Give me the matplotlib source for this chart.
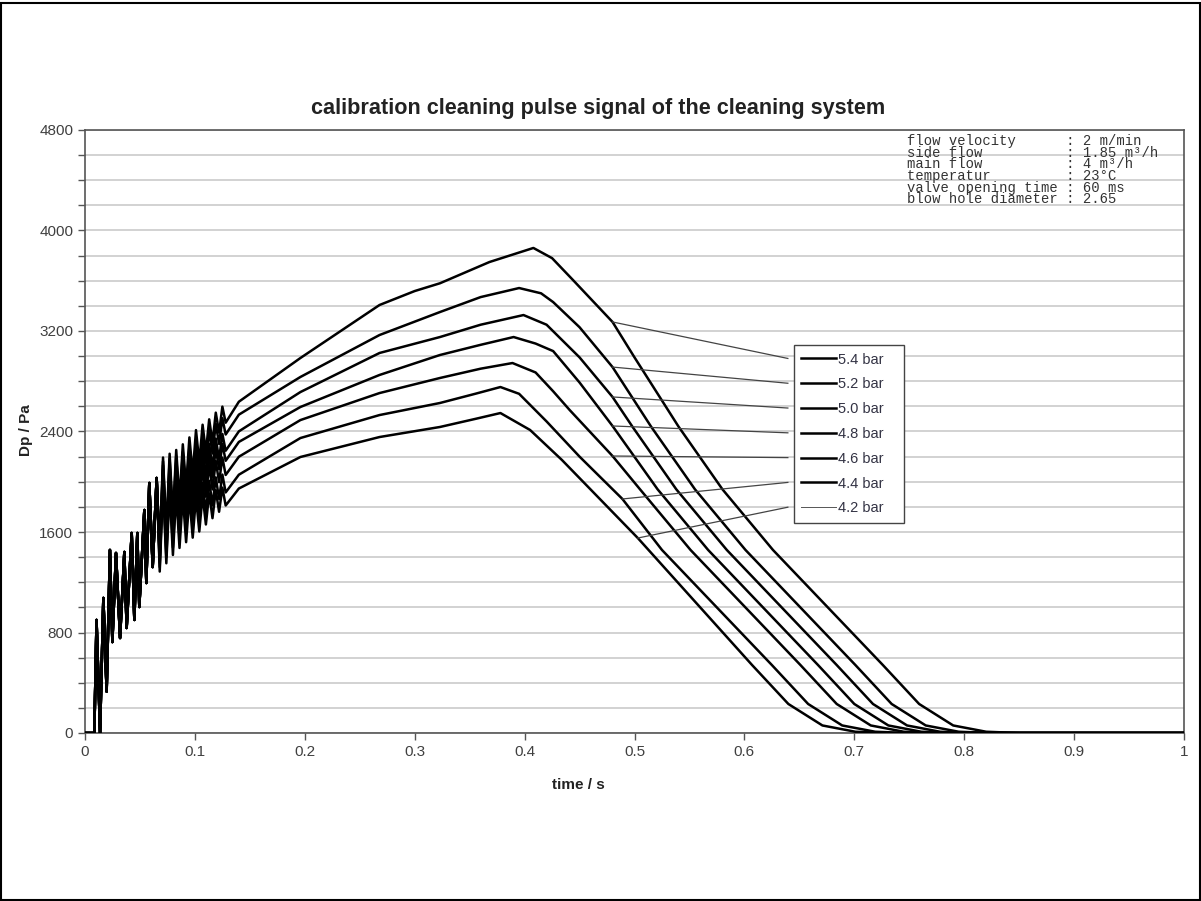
import numpy as np
import matplotlib.pyplot as plt
from matplotlib.patches import Rectangle
from matplotlib.ticker import MultipleLocator

plt.rcParams['font.family'] = ['Liberation Sans', 'DejaVu Sans']

labels = ["5.4 bar", "5.2 bar", "5.0 bar", "4.8 bar", "4.6 bar", "4.4 bar", "4.2 bar"]

# start-up transient, common to all pressures (t / s, Dp / Pa)
t_start = [0.0, 0.0085, 0.0105, 0.0137, 0.0167, 0.0197, 0.0227, 0.0249, 0.0282, 0.0319,
           0.0358, 0.0379, 0.0425, 0.0449, 0.0476, 0.0494, 0.054, 0.0558, 0.0585, 0.0616, 0.0652]
p_start = [0, 0, 900, 0, 1075, 330, 1457, 724, 1433, 756,
           1441, 836, 1592, 900, 1592, 1003, 1775, 1194, 1990, 1321, 2030]

# ringing phase: troughs and peaks of each curve
t_ring = [0.068, 0.071, 0.074, 0.077, 0.080, 0.083, 0.086, 0.089, 0.092, 0.095, 0.098,
          0.101, 0.104, 0.107, 0.110, 0.113, 0.116, 0.119, 0.122, 0.125, 0.128]
ring_54 = [1473, 2193, 1603, 2223, 1733, 2253, 1853, 2298, 1963, 2353, 2063,
           2411, 2152, 2454, 2235, 2497, 2313, 2550, 2391, 2598, 2470]
ring_52 = [1447, 2162, 1567, 2182, 1687, 2202, 1797, 2237, 1897, 2282, 1987,
           2330, 2070, 2370, 2150, 2410, 2225, 2461, 2301, 2506, 2376]
ring_50 = [1421, 2130, 1529, 2138, 1637, 2146, 1735, 2169, 1823, 2202, 1901,
           2239, 1975, 2270, 2046, 2302, 2113, 2344, 2180, 2381, 2247]
ring_48 = [1394, 2098, 1492, 2096, 1590, 2094, 1678, 2107, 1756, 2130, 1824,
           2159, 1895, 2191, 1967, 2223, 2033, 2264, 2100, 2301, 2167]
ring_46 = [1356, 2057, 1448, 2049, 1540, 2041, 1622, 2048, 1694, 2065, 1756,
           2087, 1818, 2110, 1881, 2132, 1939, 2165, 1996, 2192, 2054]
ring_44 = [1321, 2015, 1399, 1993, 1477, 1971, 1545, 1964, 1603, 1967, 1651,
           1976, 1704, 1992, 1760, 2008, 1812, 2035, 1863, 2057, 1915]
ring_42 = [1285, 1973, 1351, 1939, 1417, 1905, 1473, 1886, 1519, 1877, 1555,
           1876, 1604, 1892, 1660, 1908, 1710, 1933, 1761, 1953, 1811]

# rest of each pulse
t_54 = [0.14, 0.196, 0.268, 0.3, 0.323, 0.368, 0.408, 0.425, 0.444, 0.48, 0.50,
        0.54, 0.58, 0.626, 0.726, 0.759, 0.79, 0.82, 0.85, 1.0]
p_54 = [2637, 2985, 3407, 3518, 3580, 3749, 3861, 3780, 3606, 3272, 2990,
        2440, 1940, 1457, 541, 231, 60, 10, 0, 0]

t_52 = [0.14, 0.196, 0.268, 0.323, 0.36, 0.395, 0.415, 0.426, 0.45, 0.48, 0.515,
        0.555, 0.601, 0.701, 0.734, 0.765, 0.795, 0.825, 1.0]
p_52 = [2534, 2834, 3168, 3351, 3470, 3542, 3500, 3430, 3230, 2913, 2440,
        1940, 1457, 541, 231, 60, 10, 0, 0]

t_50 = [0.14, 0.196, 0.268, 0.323, 0.36, 0.399, 0.42, 0.45, 0.48, 0.498,
        0.538, 0.584, 0.684, 0.717, 0.748, 0.778, 0.808, 1.0]
p_50 = [2401, 2714, 3025, 3152, 3250, 3327, 3250, 2990, 2675, 2440,
        1940, 1457, 541, 231, 60, 10, 0, 0]

t_48 = [0.14, 0.196, 0.268, 0.323, 0.36, 0.39, 0.41, 0.426, 0.45, 0.48,
        0.521, 0.567, 0.667, 0.70, 0.731, 0.761, 0.791, 1.0]
p_48 = [2317, 2595, 2850, 3009, 3090, 3152, 3100, 3040, 2790, 2444,
        1940, 1457, 541, 231, 60, 10, 0, 0]

t_46 = [0.14, 0.196, 0.268, 0.323, 0.36, 0.389, 0.41, 0.426, 0.441, 0.48,
        0.505, 0.551, 0.651, 0.684, 0.715, 0.745, 0.775, 1.0]
p_46 = [2199, 2491, 2706, 2826, 2900, 2945, 2870, 2720, 2571, 2205,
        1940, 1457, 541, 231, 60, 10, 0, 0]

t_44 = [0.14, 0.196, 0.268, 0.323, 0.355, 0.378, 0.395, 0.42, 0.45, 0.489,
        0.525, 0.625, 0.658, 0.689, 0.719, 0.749, 1.0]
p_44 = [2056, 2348, 2531, 2627, 2700, 2754, 2700, 2480, 2200, 1863,
        1457, 541, 231, 60, 10, 0, 0]

t_42 = [0.14, 0.196, 0.268, 0.323, 0.355, 0.378, 0.405, 0.434, 0.503,
        0.607, 0.64, 0.671, 0.701, 0.731, 1.0]
p_42 = [1946, 2197, 2356, 2436, 2500, 2547, 2412, 2173, 1552,
        541, 231, 60, 10, 0, 0]

series_ring = [ring_54, ring_52, ring_50, ring_48, ring_46, ring_44, ring_42]
series_t = [t_54, t_52, t_50, t_48, t_46, t_44, t_42]
series_p = [p_54, p_52, p_50, p_48, p_46, p_44, p_42]

# where the leader lines leave each curve
lead_t = [0.48, 0.48, 0.48, 0.48, 0.48, 0.489, 0.503]

info = ("flow velocity      : 2 m/min\n"
        "side flow          : 1.85 m\u00b3/h\n"
        "main flow          : 4 m\u00b3/h\n"
        "temperatur         : 23\u00b0C\n"
        "valve opening time : 60 ms\n"
        "blow hole diameter : 2.65")

fig = plt.figure(figsize=(12.01, 9.01), dpi=100)
fig.patch.set_facecolor("white")
fig.patches.append(Rectangle((0.0008, 0.001), 0.998, 0.996, transform=fig.transFigure,
                             fill=False, edgecolor="black", linewidth=1.5))

ax = fig.add_axes([85 / 1201, 1 - 733 / 901, 1099 / 1201, 603 / 901])

lines = []
curves = []
for ring, t, p, lab in zip(series_ring, series_t, series_p, labels):
    tt = np.concatenate([t_start, t_ring, t])
    pp = np.concatenate([p_start, ring, p])
    curves.append((tt, pp))
    ln, = ax.plot(tt, pp, color="black", lw=1.8, label=lab, zorder=3)
    lines.append(ln)

ax.set_xlim(0, 1)
ax.set_ylim(0, 4800)
ax.yaxis.set_major_locator(MultipleLocator(800))
ax.yaxis.set_minor_locator(MultipleLocator(200))
ax.set_xticks(np.arange(0, 1.01, 0.1))
ax.set_xticklabels(["0", "0.1", "0.2", "0.3", "0.4", "0.5", "0.6", "0.7", "0.8", "0.9", "1"])
ax.grid(axis="y", which="both", color="#cfcfcf", lw=1.3, zorder=0)
ax.tick_params(axis="both", which="both", direction="out", length=5, width=1,
               color="#555555", labelcolor="#404040", labelsize=11)
for s in ax.spines.values():
    s.set_color("#555555")
    s.set_linewidth(1.2)

fig.text(0.498, 0.880, "calibration cleaning pulse signal of the cleaning system",
         ha="center", va="center", fontsize=15.6, fontweight="bold", color="#222222")
fig.text(26 / 1201, 1 - 430 / 901, "Dp / Pa", rotation=90, ha="center", va="center",
         fontsize=11, fontweight="bold", color="#222222")
fig.text(578 / 1201, 1 - 785 / 901, "time / s", ha="center", va="center",
         fontsize=11, fontweight="bold", color="#222222")

ax.text(0.748, 0.993, info, transform=ax.transAxes, ha="left", va="top",
        family="Liberation Mono", fontsize=10, color="#333333", linespacing=0.78, zorder=4)

leg = ax.legend(handles=lines, loc="upper left", bbox_to_anchor=(0.645, 0.352, 0.1001, 0.291),
                mode="expand", borderaxespad=0, fancybox=False, framealpha=1,
                edgecolor="#444444", fontsize=10.5, handlelength=2.4, handletextpad=0.15,
                labelspacing=0.74, borderpad=0.5, labelcolor="#333344")
leg.get_frame().set_linewidth(1.0)
leg.set_zorder(5)
leg.get_lines()[-1].set_linewidth(0.7)
leg.get_lines()[-1].set_color("#555555")

# leader lines from the curves to the legend entries
fig.canvas.draw()
inv = ax.transData.inverted()
frame_x0 = leg.get_window_extent().x0
for (tt, pp), lt, hl in zip(curves, lead_t, leg.get_lines()):
    box = hl.get_window_extent()
    ex, ey = inv.transform((frame_x0 - 6, box.y0 + box.height / 2))
    ax.plot([lt, ex], [np.interp(lt, tt, pp), ey], color="#444444", lw=0.9,
            clip_on=False, zorder=4)

fig.savefig("out.png", dpi=100)
